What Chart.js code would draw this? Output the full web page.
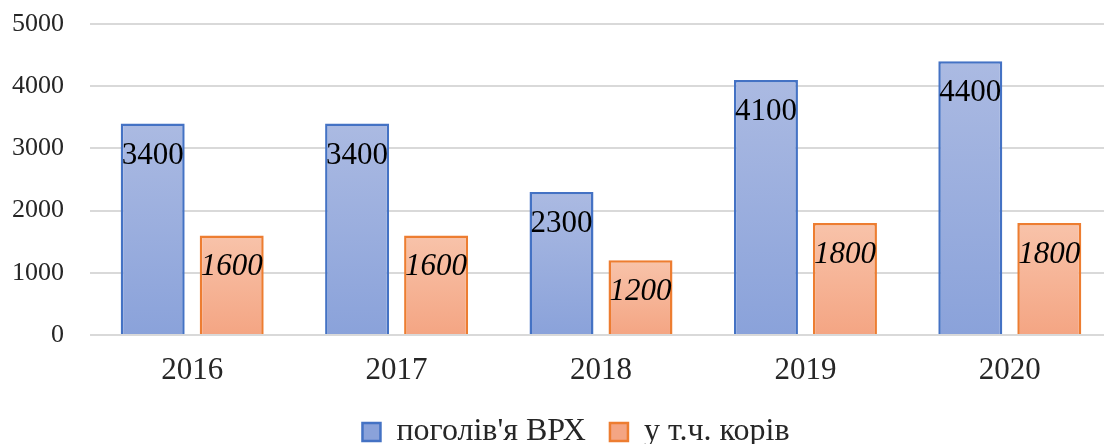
<!DOCTYPE html>
<html>
<head>
<meta charset="utf-8">
<script src="https://cdn.jsdelivr.net/npm/chart.js@4.4.1/dist/chart.umd.min.js"></script>
<style>
  html, body { margin: 0; padding: 0; background: #fff; overflow: hidden; }
  #wrap { width: 1104px; height: 444px; overflow: hidden; }
</style>
</head>
<body>
<div id="wrap"><canvas id="chart" width="1112" height="444"></canvas></div>
<script>
const years = ['2016', '2017', '2018', '2019', '2020'];
const cattle = [3400, 3400, 2300, 4100, 4400];
const cows = [1600, 1600, 1200, 1800, 1800];
const seriesNames = ["поголів'я ВРХ", 'у т.ч. корів'];
const yTicks = [0, 1000, 2000, 3000, 4000, 5000];

const FONT = '"Liberation Serif", "Times New Roman", serif';

function barGradient(topColor, bottomColor, flat) {
    return (ctx) => {
        if (ctx.type !== 'data') return flat;
        const chart = ctx.chart;
        const y = chart.scales.y;
        if (!y) return flat;
        const top = y.getPixelForValue(ctx.raw);
        const bottom = y.getPixelForValue(0);
        if (!isFinite(top) || !isFinite(bottom) || top === bottom) return flat;
        const g = chart.ctx.createLinearGradient(0, top, 0, bottom);
        g.addColorStop(0, topColor);
        g.addColorStop(1, bottomColor);
        return g;
    };
}

const valueLabels = {
    id: 'valueLabels',
    afterDatasetsDraw(chart) {
        const ctx = chart.ctx;
        ctx.save();
        ctx.fillStyle = '#000';
        ctx.textAlign = 'center';
        ctx.textBaseline = 'alphabetic';
        chart.data.datasets.forEach((ds, i) => {
            const meta = chart.getDatasetMeta(i);
            ctx.font = (i === 1 ? 'italic ' : '') + '31px ' + FONT;
            meta.data.forEach((bar, j) => {
                ctx.fillText(String(ds.data[j]), bar.x, bar.y + 40);
            });
        });
        ctx.restore();
    }
};

// move the legend a bit right, like the original
const legendShift = {
    id: 'legendShift',
    afterLayout(chart) {
        const l = chart.legend;
        if (!l) return;
        l.left += 20;
        l.right += 20;
    }
};

new Chart(document.getElementById('chart'), {
    type: 'bar',
    data: {
        labels: years,
        datasets: [{
            label: seriesNames[0],
            data: cattle,
            backgroundColor: barGradient('#abbae2', '#8aa2da', '#9db0df'),
            borderColor: '#4472c4',
            borderWidth: 2.5,
            barPercentage: 0.81,
            categoryPercentage: 0.773
        }, {
            label: seriesNames[1],
            data: cows,
            backgroundColor: barGradient('#f8c3aa', '#f4a583', '#f6b598'),
            borderColor: '#ed7d31',
            borderWidth: 2.5,
            barPercentage: 0.81,
            categoryPercentage: 0.773
        }]
    },
    options: {
        responsive: false,
        animation: false,
        layout: { padding: { top: 24, right: 0, bottom: 0, left: 0 } },
        plugins: {
            legend: {
                position: 'bottom',
                maxHeight: 52,
                labels: {
                    font: { family: FONT, size: 32 },
                    color: '#262626',
                    boxWidth: 18,
                    boxHeight: 18,
                    padding: 24
                }
            },
            tooltip: { enabled: false }
        },
        scales: {
            x: {
                grid: { display: false },
                border: { display: false },
                afterFit: (scale) => { scale.height = 57; },
                ticks: {
                    font: { family: FONT, size: 31 },
                    color: '#262626',
                    padding: 9
                }
            },
            y: {
                min: 0,
                max: 5000,
                afterBuildTicks: (scale) => {
                    scale.ticks = yTicks.map(v => ({ value: v }));
                },
                afterFit: (scale) => {
                    scale.width = 90;
                    scale.paddingTop = 0;
                    scale.paddingBottom = 0;
                },
                grid: { color: '#d9d9d9', lineWidth: 2, drawTicks: false },
                border: { display: false },
                ticks: {
                    font: { family: FONT, size: 26 },
                    color: '#262626',
                    padding: 26,
                    callback: (v) => String(v)
                }
            }
        }
    },
    plugins: [valueLabels, legendShift]
});
</script>
</body>
</html>
